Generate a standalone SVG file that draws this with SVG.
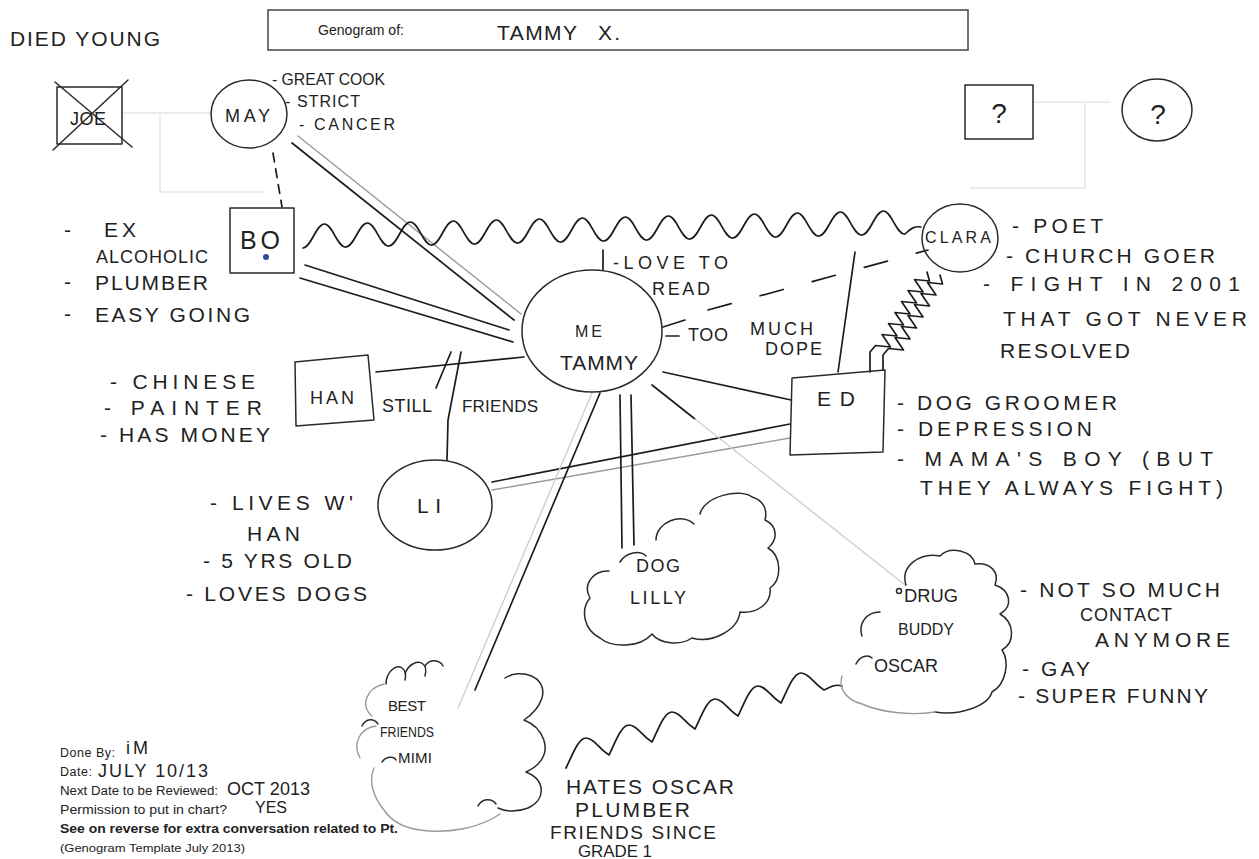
<svg xmlns="http://www.w3.org/2000/svg" width="1259" height="859" viewBox="0 0 1259 859">
<style>
.hw{font-family:"Liberation Sans",Arial,sans-serif;font-size:21px;fill:#222}
.hs{font-family:"Liberation Sans",Arial,sans-serif;font-size:18px;fill:#222}
.hm{font-family:"Liberation Sans",Arial,sans-serif;font-size:16px;fill:#222}
.tp{font-family:"Liberation Sans",Arial,sans-serif;font-size:12.5px;fill:#222}
.ln{stroke:#1c1c1c;stroke-width:1.7;fill:none;stroke-linecap:round;stroke-linejoin:round}
.gr{stroke:#9a9a9a;stroke-width:1.4;fill:none;stroke-linecap:round;stroke-linejoin:round}
.lg{stroke:#cfcfcf;stroke-width:1.4;fill:none;stroke-linecap:round}
.fa{stroke:#ececec;stroke-width:2;fill:none}
.cl{stroke:#2a2a2a;stroke-width:1.5;fill:none;stroke-linecap:round;stroke-linejoin:round}
</style>
<rect width="1259" height="859" fill="#fff"/>

<g id="template-faint">
<path class="fa" d="M122,113 H211 M160,113 V192 H265"/>
<path class="fa" d="M1033,102 H1110 M1085,102 V188 H970"/>
</g>

<g id="title">
<rect x="268" y="10" width="700" height="40" fill="none" stroke="#444" stroke-width="1.5"/>
<text class="tp" x="318" y="35" style="font-size:15px" textLength="86" lengthAdjust="spacingAndGlyphs">Genogram of:</text>
<text class="hw" x="497" y="40" textLength="80" lengthAdjust="spacing">TAMMY</text>
<text class="hw" x="598" y="40" textLength="22" lengthAdjust="spacing">X.</text>
</g>

<g id="connectors">
<path class="ln" d="M273,153 L282,207" stroke-dasharray="9 7"/>
<path class="ln" d="M292,143 L514,320"/>
<path class="gr" d="M298,136 L521,314"/>
<path class="ln" d="M305,265 L509,330"/>
<path class="ln" d="M300,278 L513,342"/>
<path class="ln" d="M303,248 c8,0 13,-24 21.5,-24 c8,0 13,24 21.5,23 c8,0 13,-24 21.5,-24 c8,0 13,24 21.5,23 c8,0 13,-24 21.5,-24 c8,0 13,24 21.5,23 c8,0 13,-24 21.5,-24 c8,0 13,24 21.5,23 c8,0 13,-24 21.5,-24 c8,0 13,24 21.5,23 c8,0 13,-24 21.5,-24 c8,0 13,24 21.5,23 c8,0 13,-24 21.5,-24 c8,0 13,24 21.5,23 c8,0 13,-24 21.5,-24 c8,0 13,24 21.5,23 c8,0 13,-24 21.5,-24 c8,0 13,24 21.5,23 c8,0 13,-24 21.5,-24 c8,0 13,24 21.5,23 c8,0 13,-24 21.5,-24 c8,0 13,24 21.5,23 c8,0 13,-24 21.5,-24 c8,0 13,24 21.5,23 c8,0 13,-24 21.5,-24 c8,0 13,24 21.5,23 c8,0 13,-24 21.5,-24 c8,0 13,24 21.5,23 c6,-6 10,-8 16,-7"/>
<path class="ln" d="M603,250 V270"/>
<path class="ln" d="M708,310 L928,250" stroke-dasharray="24 30"/>
<path class="ln" d="M376,372 L524,357"/>
<path class="ln" d="M436,388 L451,352"/>
<path class="ln" d="M461,352 L448,420 L447,460"/>
<path class="ln" d="M663,372 L791,400"/>
<path class="ln" d="M855,252 L838,372"/>
<path class="ln" d="M927,272 L929.5,281 L914.5,279.5 L923,292 L908,290.5 L916.5,303 L901.5,301.5 L910,314 L895,312.5 L903.5,325 L888.5,323.5 L897,336 L882,334.5 L890.5,347 L875.5,345.5 L870,352 L870,372"/>
<path class="ln" transform="translate(13,3)" d="M927,272 L929.5,281 L914.5,279.5 L923,292 L908,290.5 L916.5,303 L901.5,301.5 L910,314 L895,312.5 L903.5,325 L888.5,323.5 L897,336 L882,334.5 L890.5,347 L875.5,345.5 L870,352 L870,367"/>
<path class="ln" d="M492,482 L790,424"/>
<path class="gr" d="M492,490 L790,438"/>
<path class="ln" d="M600,393 L475,690"/>
<path class="lg" d="M592,393 L458,708"/>
<path class="ln" d="M620,395 L622,548"/>
<path class="ln" d="M631,395 L634,545"/>
<path class="ln" d="M652,385 L695,419"/>
<path class="lg" d="M695,419 L905,585"/>
<path class="ln" d="M566,768 c6,-12 12,-30 20,-30 c8,0 14,12 23,17 c6,-12 12,-30 20,-30 c8,0 14,12 23,17 c6,-12 12,-30 20,-30 c8,0 14,12 23,17 c6,-12 12,-30 20,-30 c8,0 14,12 23,17 c6,-12 12,-30 20,-30 c8,0 14,12 23,17 c6,-12 12,-30 20,-30 c8,0 14,12 23,17 c8,-4 12,-6 18,-4"/>
</g>

<g id="joe">
<rect x="57" y="87" width="65" height="57" class="cl"/>
<path class="cl" d="M53,150 L128,80 M55,82 L132,147"/>
<text class="hs" x="70" y="125" textLength="36" lengthAdjust="spacing">JOE</text>
<text class="hw" x="10" y="46" textLength="150" lengthAdjust="spacing">DIED YOUNG</text>
</g>

<g id="may">
<ellipse cx="249" cy="114" rx="38" ry="34" class="cl"/>
<text class="hs" x="225" y="122" textLength="45" lengthAdjust="spacing">MAY</text>
<text class="hm" x="272" y="85" textLength="113" lengthAdjust="spacingAndGlyphs">- GREAT COOK</text>
<text class="hm" x="285" y="107" textLength="75" lengthAdjust="spacing">- STRICT</text>
<text class="hm" x="299" y="130" textLength="96" lengthAdjust="spacing">- CANCER</text>
</g>

<g id="unknown-father">
<rect x="965" y="85" width="68" height="54" class="cl"/>
<text class="hw" x="999" y="123" style="font-size:28px" text-anchor="middle">?</text>
</g>
<g id="unknown-mother">
<ellipse cx="1157" cy="110" rx="35" ry="31" class="cl"/>
<text class="hw" x="1158" y="124" style="font-size:28px" text-anchor="middle">?</text>
</g>

<g id="bo">
<rect x="230" y="208" width="64" height="65" class="cl"/>
<text class="hw" x="240" y="249" style="font-size:25px" textLength="40" lengthAdjust="spacing">BO</text>
<circle cx="266" cy="257" r="3" fill="#2b4a9a"/>
<text class="hw" x="64" y="237">-</text>
<text class="hw" x="104" y="237" textLength="32" lengthAdjust="spacing">EX</text>
<text class="hw" x="96" y="263" style="font-size:18px" textLength="112" lengthAdjust="spacing">ALCOHOLIC</text>
<text class="hw" x="64" y="289">-</text>
<text class="hw" x="95" y="290" textLength="113" lengthAdjust="spacing">PLUMBER</text>
<text class="hw" x="64" y="321">-</text>
<text class="hw" x="95" y="322" textLength="155" lengthAdjust="spacing">EASY GOING</text>
</g>

<g id="me">
<ellipse cx="592" cy="331" rx="70" ry="61" class="cl"/>
<text class="tp" x="575" y="337" style="font-size:16px" textLength="27" lengthAdjust="spacing">ME</text>
<text class="hw" x="560" y="370" textLength="78" lengthAdjust="spacing">TAMMY</text>
<text class="hs" x="613" y="269" textLength="115" lengthAdjust="spacing">-LOVE TO</text>
<text class="hs" x="652" y="295" textLength="58" lengthAdjust="spacing">READ</text>
<path class="ln" d="M663,327 L685,320 M666,336 L679,336"/>
<text class="hs" x="688" y="341" textLength="40" lengthAdjust="spacing">TOO</text>
<text class="hs" x="750" y="335" textLength="63" lengthAdjust="spacing">MUCH</text>
<text class="hs" x="765" y="355" textLength="57" lengthAdjust="spacing">DOPE</text>
</g>

<g id="clara">
<ellipse cx="960" cy="238" rx="38" ry="34" class="cl"/>
<text class="hm" x="925" y="243" textLength="66" lengthAdjust="spacing">CLARA</text>
<text class="hw" x="1012" y="233" textLength="91" lengthAdjust="spacing">- POET</text>
<text class="hw" x="1006" y="263" textLength="209" lengthAdjust="spacing">- CHURCH GOER</text>
<text class="hw" x="983" y="291" textLength="257" lengthAdjust="spacing">- FIGHT IN 2001</text>
<text class="hw" x="1003" y="326" textLength="244" lengthAdjust="spacing">THAT GOT NEVER</text>
<text class="hw" x="1000" y="358" textLength="130" lengthAdjust="spacing">RESOLVED</text>
</g>

<g id="han">
<path class="cl" d="M295,362 L368,355 L374,420 L296,426 Z"/>
<text class="hs" x="310" y="404" textLength="44" lengthAdjust="spacing">HAN</text>
<text class="hw" x="110" y="389" textLength="145" lengthAdjust="spacing">- CHINESE</text>
<text class="hw" x="104" y="415" textLength="158" lengthAdjust="spacing">- PAINTER</text>
<text class="hw" x="100" y="442" textLength="170" lengthAdjust="spacing">- HAS MONEY</text>
<text class="hs" x="382" y="412" textLength="50" lengthAdjust="spacing">STILL</text>
<text class="hs" x="462" y="412" style="font-size:17px" textLength="76" lengthAdjust="spacing">FRIENDS</text>
</g>

<g id="ed">
<path class="cl" d="M792,378 L885,370 L883,452 L790,455 Z"/>
<text class="hw" x="817" y="406" textLength="38" lengthAdjust="spacing">ED</text>
<text class="hw" x="897" y="410" textLength="220" lengthAdjust="spacing">- DOG GROOMER</text>
<text class="hw" x="897" y="436" textLength="195" lengthAdjust="spacing">- DEPRESSION</text>
<text class="hw" x="897" y="466" textLength="316" lengthAdjust="spacing">- MAMA'S BOY (BUT</text>
<text class="hw" x="920" y="495" textLength="303" lengthAdjust="spacing">THEY ALWAYS FIGHT)</text>
</g>

<g id="li">
<ellipse cx="435" cy="505" rx="57" ry="45" class="cl"/>
<text class="hw" x="417" y="513" textLength="24" lengthAdjust="spacing">LI</text>
<text class="hw" x="210" y="510" textLength="143" lengthAdjust="spacing">- LIVES W'</text>
<text class="hw" x="247" y="541" textLength="53" lengthAdjust="spacing">HAN</text>
<text class="hw" x="203" y="568" textLength="149" lengthAdjust="spacing">- 5 YRS OLD</text>
<text class="hw" x="186" y="601" textLength="181" lengthAdjust="spacing">- LOVES DOGS</text>
</g>

<g id="dog-lilly">
<path class="cl" d="M656,540 C656,522 682,512 694,524 M700,514 C704,496 740,488 752,497 C762,500 768,508 765,520 C778,526 778,540 768,548 C782,556 782,580 770,588 C772,604 756,614 740,612 C738,630 712,644 692,638 C680,646 660,644 652,634 C640,648 612,648 600,638 C584,630 580,610 590,598 C582,584 594,570 609,571 M620,562 C626,552 640,550 646,556"/>
<text class="hs" x="636" y="572" textLength="44" lengthAdjust="spacing">DOG</text>
<text class="hs" x="630" y="604" textLength="56" lengthAdjust="spacing">LILLY</text>
</g>

<g id="oscar">
<path class="cl" d="M906,585 C900,566 920,552 940,556 C950,546 972,550 975,564 C990,562 1000,572 995,585 C1010,590 1014,606 1000,614 C1014,622 1016,642 1002,650 C1010,662 1006,684 992,692 C988,706 960,716 935,712"/>
<path class="gr" d="M935,712 C910,716 880,712 862,704 C846,700 838,688 842,676"/>
<path class="cl" d="M880,612 C866,612 858,624 862,636 M856,664 C860,656 868,654 872,658"/>
<circle cx="899" cy="591" r="2.5" class="cl"/>
<text class="hs" x="904" y="602" textLength="54" lengthAdjust="spacingAndGlyphs">DRUG</text>
<text class="hm" x="898" y="635" textLength="56" lengthAdjust="spacing">BUDDY</text>
<text class="hs" x="874" y="672" textLength="64" lengthAdjust="spacing">OSCAR</text>
<text class="hw" x="1020" y="597" textLength="200" lengthAdjust="spacing">- NOT SO MUCH</text>
<text class="hs" x="1080" y="621" textLength="92" lengthAdjust="spacing">CONTACT</text>
<text class="hw" x="1095" y="647" textLength="135" lengthAdjust="spacing">ANYMORE</text>
<text class="hw" x="1022" y="676" textLength="68" lengthAdjust="spacing">- GAY</text>
<text class="hw" x="1018" y="703" textLength="190" lengthAdjust="spacing">- SUPER FUNNY</text>
</g>

<g id="mimi">
<path class="cl" d="M386,684 C386,672 396,664 402,668 C406,671 406,676 405,680 M405,674 C408,664 418,660 423,664 C427,667 426,672 425,676 M425,666 C430,658 440,660 443,666"/>
<path class="cl" d="M505,678 C520,668 548,676 542,698 C538,710 530,716 524,720 C544,728 552,750 538,764 C534,768 530,770 526,772 C546,780 546,800 528,808 C518,812 506,812 498,808 M478,806 C482,798 492,798 496,804"/>
<path class="gr" d="M500,814 C480,828 448,834 420,830 C404,828 392,822 384,810 C374,798 368,782 374,768 M376,726 C360,728 352,744 360,758 M372,716 C360,706 366,688 384,684"/>
<path class="cl" d="M382,762 C386,756 394,756 396,760 M362,726 C366,718 374,718 378,724"/>
<text class="hm" x="388" y="711" style="font-size:15px" textLength="38" lengthAdjust="spacing">BEST</text>
<text class="hm" x="380" y="737" style="font-size:14px" textLength="54" lengthAdjust="spacingAndGlyphs">FRIENDS</text>
<text class="hm" x="398" y="763" style="font-size:15px" textLength="34" lengthAdjust="spacing">MIMI</text>
<text class="hw" x="566" y="794" textLength="168" lengthAdjust="spacing">HATES OSCAR</text>
<text class="hw" x="575" y="817" textLength="115" lengthAdjust="spacing">PLUMBER</text>
<text class="hw" x="550" y="839" style="font-size:19px" textLength="166" lengthAdjust="spacing">FRIENDS SINCE</text>
<text class="hw" x="578" y="857" style="font-size:17px" textLength="74" lengthAdjust="spacingAndGlyphs">GRADE 1</text>
</g>

<g id="footer">
<text class="tp" x="60" y="757" textLength="55" lengthAdjust="spacing">Done By:</text>
<text class="hs" x="126" y="754" textLength="22" lengthAdjust="spacing">iM</text>
<text class="tp" x="60" y="776" textLength="32" lengthAdjust="spacing">Date:</text>
<text class="hs" x="98" y="777" textLength="110" lengthAdjust="spacing">JULY 10/13</text>
<text class="tp" x="60" y="795" textLength="158" lengthAdjust="spacingAndGlyphs">Next Date to be Reviewed:</text>
<text class="hs" x="227" y="795" textLength="83" lengthAdjust="spacing">OCT 2013</text>
<text class="tp" x="60" y="814" textLength="167" lengthAdjust="spacingAndGlyphs">Permission to put in chart?</text>
<text class="hm" x="255" y="813" textLength="32" lengthAdjust="spacing">YES</text>
<text class="tp" x="60" y="833" font-weight="bold" textLength="338" lengthAdjust="spacingAndGlyphs">See on reverse for extra conversation related to Pt.</text>
<text class="tp" x="60" y="852" style="font-size:11px" textLength="185" lengthAdjust="spacingAndGlyphs">(Genogram Template July 2013)</text>
</g>
</svg>
